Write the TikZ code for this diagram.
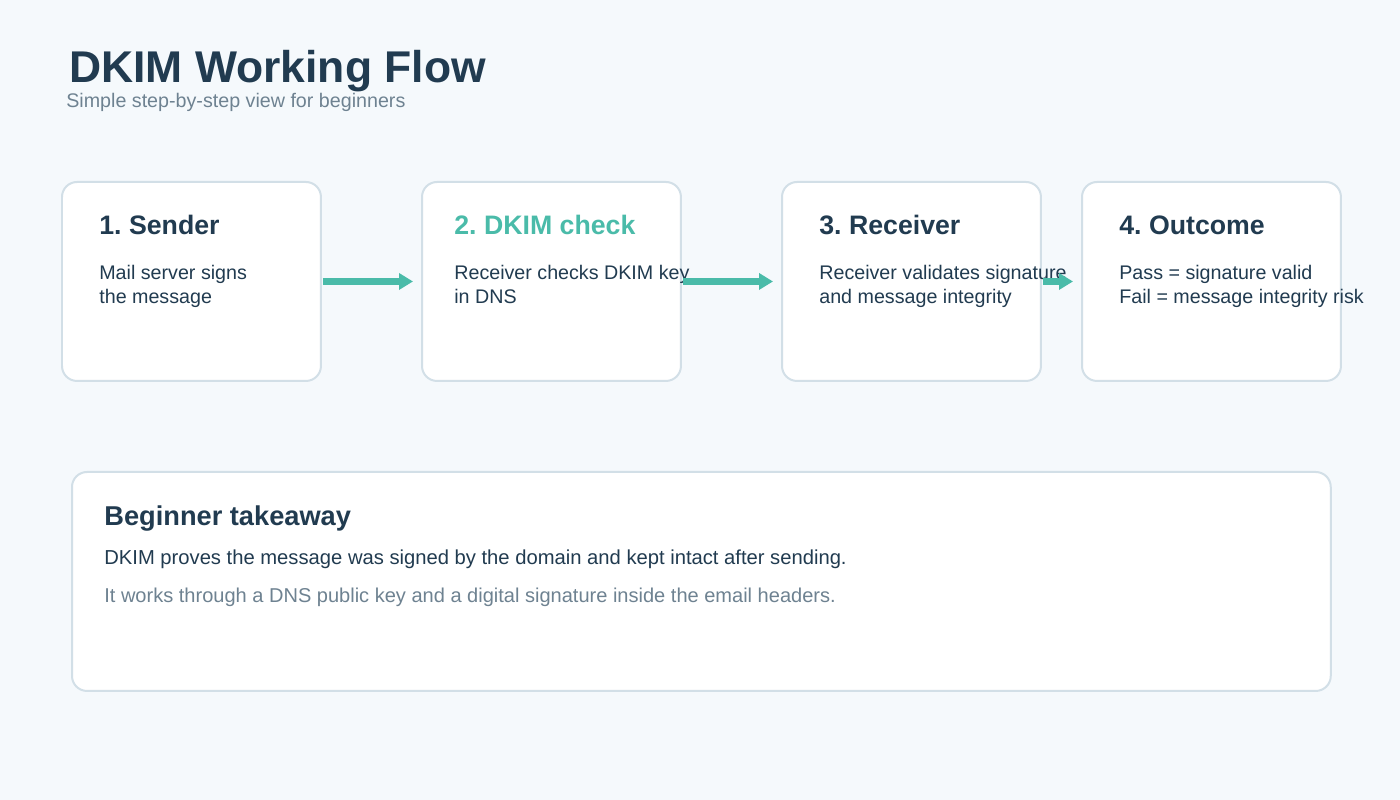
\documentclass[tikz,border=0pt]{standalone}
\usepackage{fontspec}
\setmainfont{Liberation Sans}
\usetikzlibrary{arrows.meta,positioning,calc}
\definecolor{FlowInk}{HTML}{213B50}
\definecolor{FlowTeal}{HTML}{4ABBA9}
\definecolor{FlowGrey}{HTML}{6E8291}
\definecolor{FlowEdge}{HTML}{D2DFE7}
\definecolor{FlowBack}{HTML}{F5F9FC}
\tikzset{card/.style={draw=FlowEdge,line width=0.04cm,rounded corners=0.3cm,fill=white,anchor=north west,inner sep=0pt},
  push/.style={-{Triangle[length=0.28cm,width=0.32cm]},line width=0.14cm,FlowTeal}}
\frenchspacing
\begin{document}
\begin{tikzpicture}[x=0.02cm,y=-0.02cm,
  headline/.style={anchor=base west,inner sep=0pt,font=\fontsize{25.3}{28}\selectfont\bfseries,text=FlowInk},
  subline/.style={anchor=base west,inner sep=0pt,font=\fontsize{11.2}{13}\selectfont,text=FlowGrey},
  cardtitle/.style={anchor=base west,inner sep=0pt,font=\fontsize{15.2}{17}\selectfont\bfseries,text=FlowInk},
  cardtext/.style={anchor=base west,inner sep=0pt,align=left,font=\fontsize{11.2}{13.9}\selectfont,text=FlowInk}]
\useasboundingbox[fill=FlowBack] (0,0) rectangle (1400,800);
% Heading
\node[headline] (title) at (69,83) {DKIM Working Flow};
\node[subline] (subtitle) at (66,108) {Simple step-by-step view for beginners};
% Step cards
\node[card,minimum width=5.18cm,minimum height=3.98cm] (sender) at (61,181) {};
\node[card,minimum width=5.18cm,minimum height=3.98cm] (dkimcheck) at (421,181) {};
\node[card,minimum width=5.18cm,minimum height=3.98cm] (receiver) at (781,181) {};
\node[card,minimum width=5.18cm,minimum height=3.98cm] (outcome) at (1081,181) {};
\node[cardtitle] (sendertitle) at (99,235) {1. Sender};
\node[cardtext] (sendertext) at (99,303.5) {Mail server signs\\the message};
\node[cardtitle,text=FlowTeal] (checktitle) at (454,235) {2. DKIM check};
\node[cardtext] (checktext) at (454,303.5) {Receiver checks DKIM key\\in DNS};
\node[cardtitle] (receivertitle) at (819,235) {3. Receiver};
\node[cardtext] (receivertext) at (819,303.5) {Receiver validates signature\\and message integrity};
\node[cardtitle] (outcometitle) at (1119,235) {4. Outcome};
\node[cardtext] (outcometext) at (1119,303.5) {Pass = signature valid\\Fail = message integrity risk};
\draw[push] ([xshift=0.02cm]sender.east) -- ([xshift=-0.16cm]dkimcheck.west);
\draw[push] ([xshift=0.02cm]dkimcheck.east) -- ([xshift=-0.16cm]receiver.west);
\draw[push] ([xshift=0.02cm]receiver.east) -- ([xshift=-0.16cm]outcome.west);
% Takeaway
\node[card,minimum width=25.18cm,minimum height=4.38cm] (takeaway) at (71,471) {};
\node[cardtitle,font=\fontsize{15.5}{18}\selectfont\bfseries] (takeawaytitle) at (104,525) {Beginner takeaway};
\node[cardtext,font=\fontsize{11.5}{14}\selectfont] (takeawayone) at (104,564) {DKIM proves the message was signed by the domain and kept intact after sending.};
\node[cardtext,font=\fontsize{11.4}{14}\selectfont,text=FlowGrey] (takeawaytwo) at (104,602) {It works through a DNS public key and a digital signature inside the email headers.};
\end{tikzpicture}
\end{document}
